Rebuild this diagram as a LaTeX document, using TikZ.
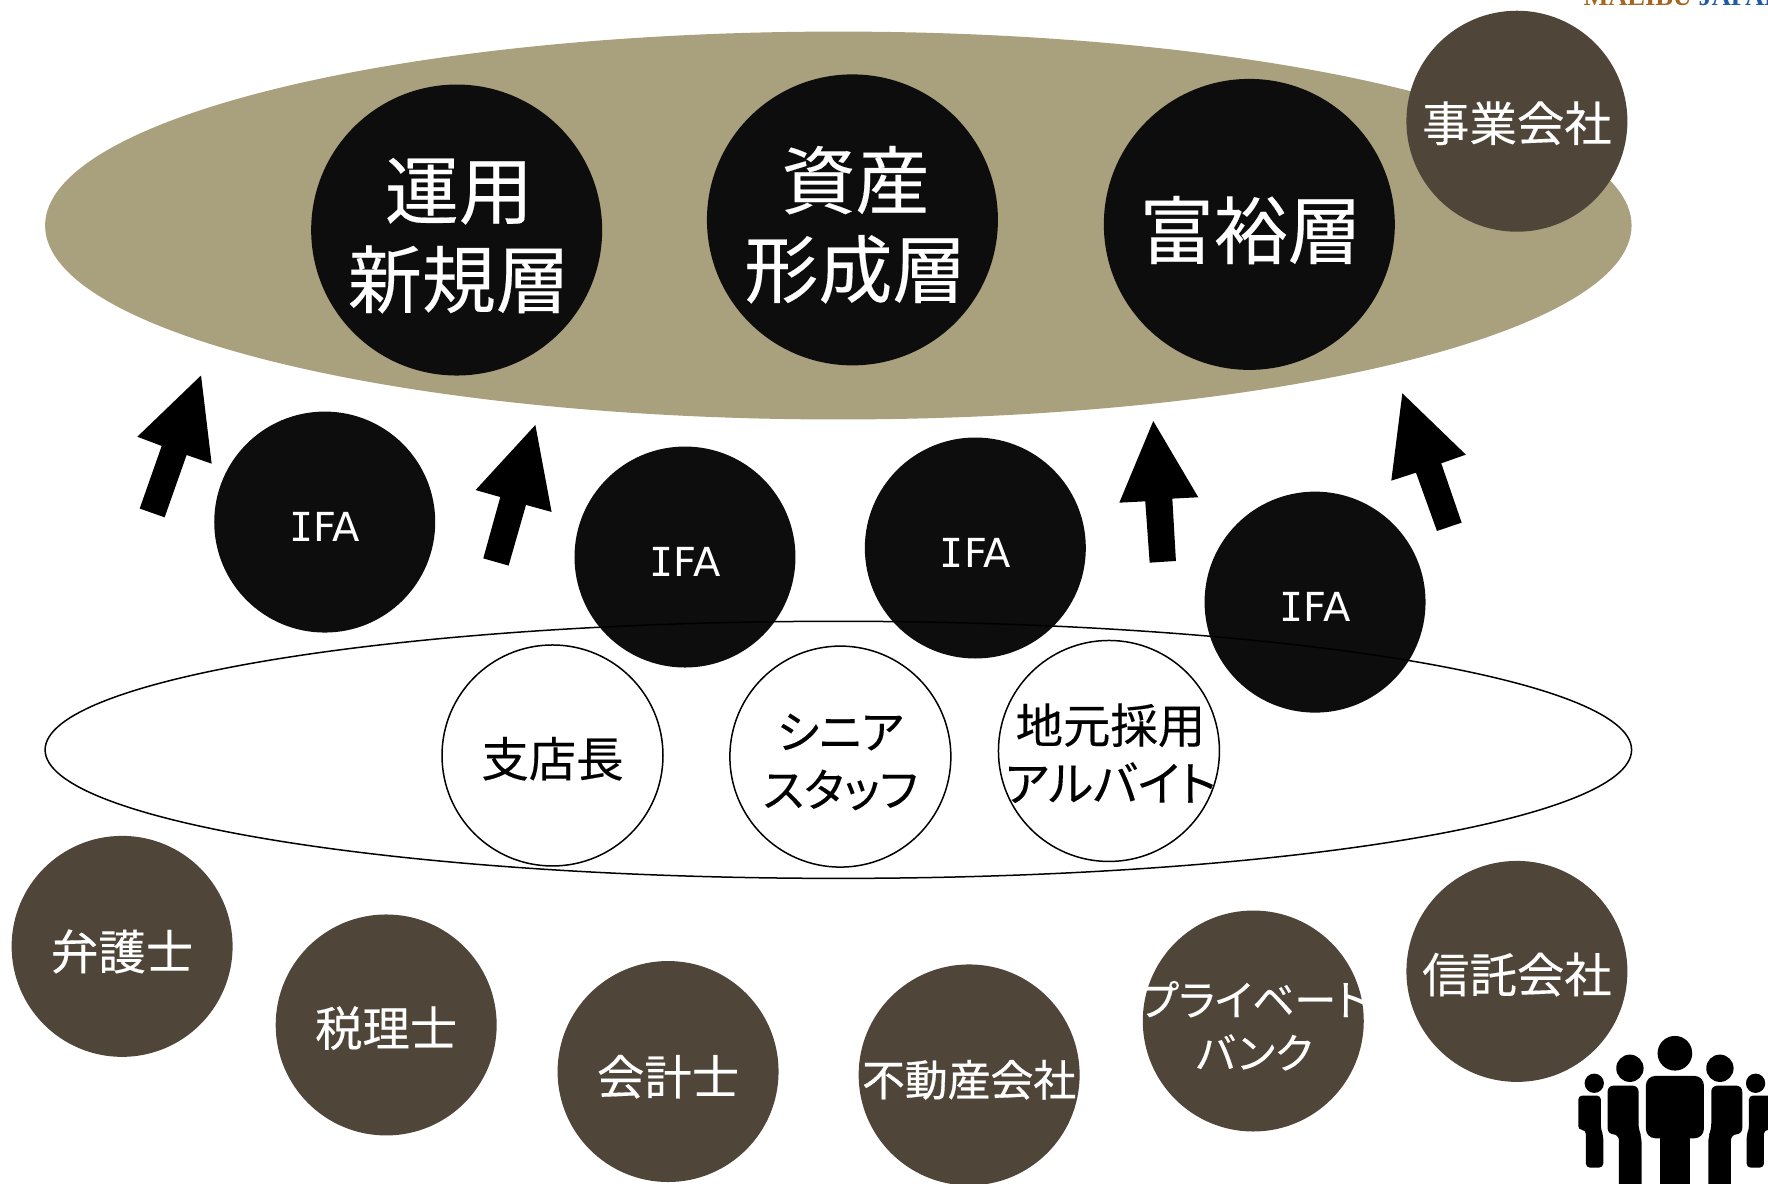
\documentclass[tikz,border=0pt]{standalone}
\usepackage{fontspec}
\setmainfont[FakeBold=0.25]{Noto Sans CJK JP}
\newfontfamily\kanafont[FakeBold=0.25,RawFeature=+palt]{Noto Sans CJK JP}
\newfontfamily\heavyfont[FakeBold=0.7]{Noto Sans CJK JP}
\newfontfamily\latinserif{Liberation Serif}
\newfontfamily\monoi{DejaVu Sans Mono}
\newfontfamily\ifafont{DejaVu Sans}
\definecolor{olive}{HTML}{A9A07D}
\definecolor{umber}{HTML}{504539}
\definecolor{nearblack}{HTML}{0D0D0D}
\newcommand{\lift}[3][0]{\makebox[0pt][c]{\hspace*{#1pt}\raisebox{#2pt}[0pt][0pt]{\begin{tabular}{@{}c@{}}#3\end{tabular}}}}
\tikzset{
  bigdisc/.style={circle,fill=nearblack,text=white,minimum size=145.5pt,inner sep=0pt,font=\fontsize{37}{44.5}\selectfont},
  ifadisc/.style={circle,fill=nearblack,text=white,minimum size=110.5pt,inner sep=0pt,font=\fontsize{20}{24}\ifafont},
  whitedisc/.style={circle,draw=black,line width=0.75pt,fill=white,text=black,minimum size=110.5pt,inner sep=0pt,font=\fontsize{23.7}{29}\selectfont},
  browndisc/.style={circle,fill=umber,text=white,minimum size=110.5pt,inner sep=0pt,font=\fontsize{23.7}{29}\selectfont},
  blockarrow/.style={fill=black,draw=none},
  person/.style={fill=black,draw=none}
}
\begin{document}
\begin{tikzpicture}[x=0.5638pt,y=-0.5638pt]
\useasboundingbox (0,0) rectangle (1568,1049.2);
\begin{scope}
\clip (0,0) rectangle (1568,1049.2);
\node[anchor=base west,inner sep=0pt,font=\fontsize{13.2}{15}\latinserif\bfseries] (logo) at (1404,4.5) {\textcolor[HTML]{A5671F}{MALIBU} \textcolor[HTML]{1F5AA5}{JAPAN}};
\fill[olive] (743.5,200) ellipse [x radius=703.5,y radius=172];
\node[bigdisc] (a1) at (405,204) {\lift[2.2]{-13.7}{運用\\新規層}};
\node[bigdisc] (a2) at (756,195) {\lift[3]{-13.7}{資産\\形成層}};
\node[bigdisc] (a3) at (1108,199) {\lift[1.4]{-14.2}{富裕層}};
\node[browndisc] (b0) at (1345.3,107.5) {\lift{-10.4}{事業会社}};
\node[whitedisc] (w1) at (490,670) {\lift{-11}{支店長}};
\node[whitedisc] (w2) at (745.3,671) {\lift{-11}{\fontsize{22.8}{29}\kanafont シニア\\\fontsize{22.8}{29}\kanafont スタッフ}};
\node[whitedisc] (w3) at (983.5,666) {\lift[1.5]{-11}{地元採用\\\kanafont アルバイト}};
\node[ifadisc] (i1) at (288,463) {\lift{-10.2}{{\monoi I}FA}};
\node[ifadisc] (i2) at (607.5,494) {\lift{-10.2}{{\monoi I}FA}};
\node[ifadisc] (i3) at (865,486) {\lift{-10.2}{{\monoi I}FA}};
\node[ifadisc] (i4) at (1166.3,534) {\lift{-10.2}{{\monoi I}FA}};
\draw[black,line width=0.75pt] (743.5,665) ellipse [x radius=703.5,y radius=114];
\node[browndisc] (b1) at (108.3,839.3) {\lift{-12}{弁護士}};
\node[browndisc] (b2) at (342.5,909) {\lift{-11}{税理士}};
\node[browndisc] (b3) at (592.5,950.3) {\lift{-12}{会計士}};
\node[browndisc,font=\fontsize{21.4}{26}\heavyfont] (b4) at (859.5,953.3) {\lift{-10.5}{不動産会社}};
\node[browndisc,font=\fontsize{21}{26.5}\kanafont] (b5) at (1111.5,905.5) {\lift[1]{-10.5}{プライベート\\バンク}};
\node[browndisc] (b6) at (1345.3,861.5) {\lift{-11}{信託会社}};
\fill[blockarrow] (178.3,333)--(187.7,411.2)--(165.5,403.5)--(146,458.8)--(123.9,451)--(143.4,395.5)--(121.8,387.3)--cycle;
\fill[blockarrow] (474.8,376.9)--(489.2,454)--(466.5,447.8)--(451.1,501.6)--(428.6,495.2)--(443.7,440.8)--(421.8,434.6)--cycle;
\fill[blockarrow] (1022.8,373.4)--(1062.7,441)--(1039.7,442.2)--(1042.9,497.5)--(1019.6,499)--(1015.7,444.6)--(992.7,445.8)--cycle;
\fill[blockarrow] (1243.7,348.8)--(1300,403.2)--(1278.2,410.9)--(1296.3,463.5)--(1274.4,470.9)--(1255.8,419.2)--(1233.9,426.3)--cycle;
\begin{scope}[shift={(1365.7,886.8)},x=0.16667pt,y=-0.16667pt]
\fill[person] (405,160) circle [radius=52];
\fill[person,rounded corners=4.7pt] (318,228) rectangle (492,415);
\fill[person] (360,400) rectangle (450,600);
\fill[person] (270,205) circle [radius=41];
\fill[person,rounded corners=3pt] (203,257) -- (296,257) -- (296,390) -- (305,410) -- (305,600) -- (237,600) -- (237,403) -- (203,403) -- cycle;
\fill[person] (540,205) circle [radius=41];
\fill[person,rounded corners=3pt] (514,257) -- (607,257) -- (607,403) -- (573,403) -- (573,600) -- (505,600) -- (505,410) -- (514,390) -- cycle;
\fill[person] (163,250) circle [radius=29];
\fill[person,rounded corners=2pt] (115,287) -- (183,287) -- (183,390) -- (190,405) -- (190,503) -- (138,503) -- (138,390) -- (115,390) -- cycle;
\fill[person] (647,250) circle [radius=29];
\fill[person,rounded corners=2pt] (627,287) -- (695,287) -- (695,390) -- (672,390) -- (672,503) -- (620,503) -- (620,405) -- (627,390) -- cycle;
\end{scope}
\end{scope}
\end{tikzpicture}
\end{document}
